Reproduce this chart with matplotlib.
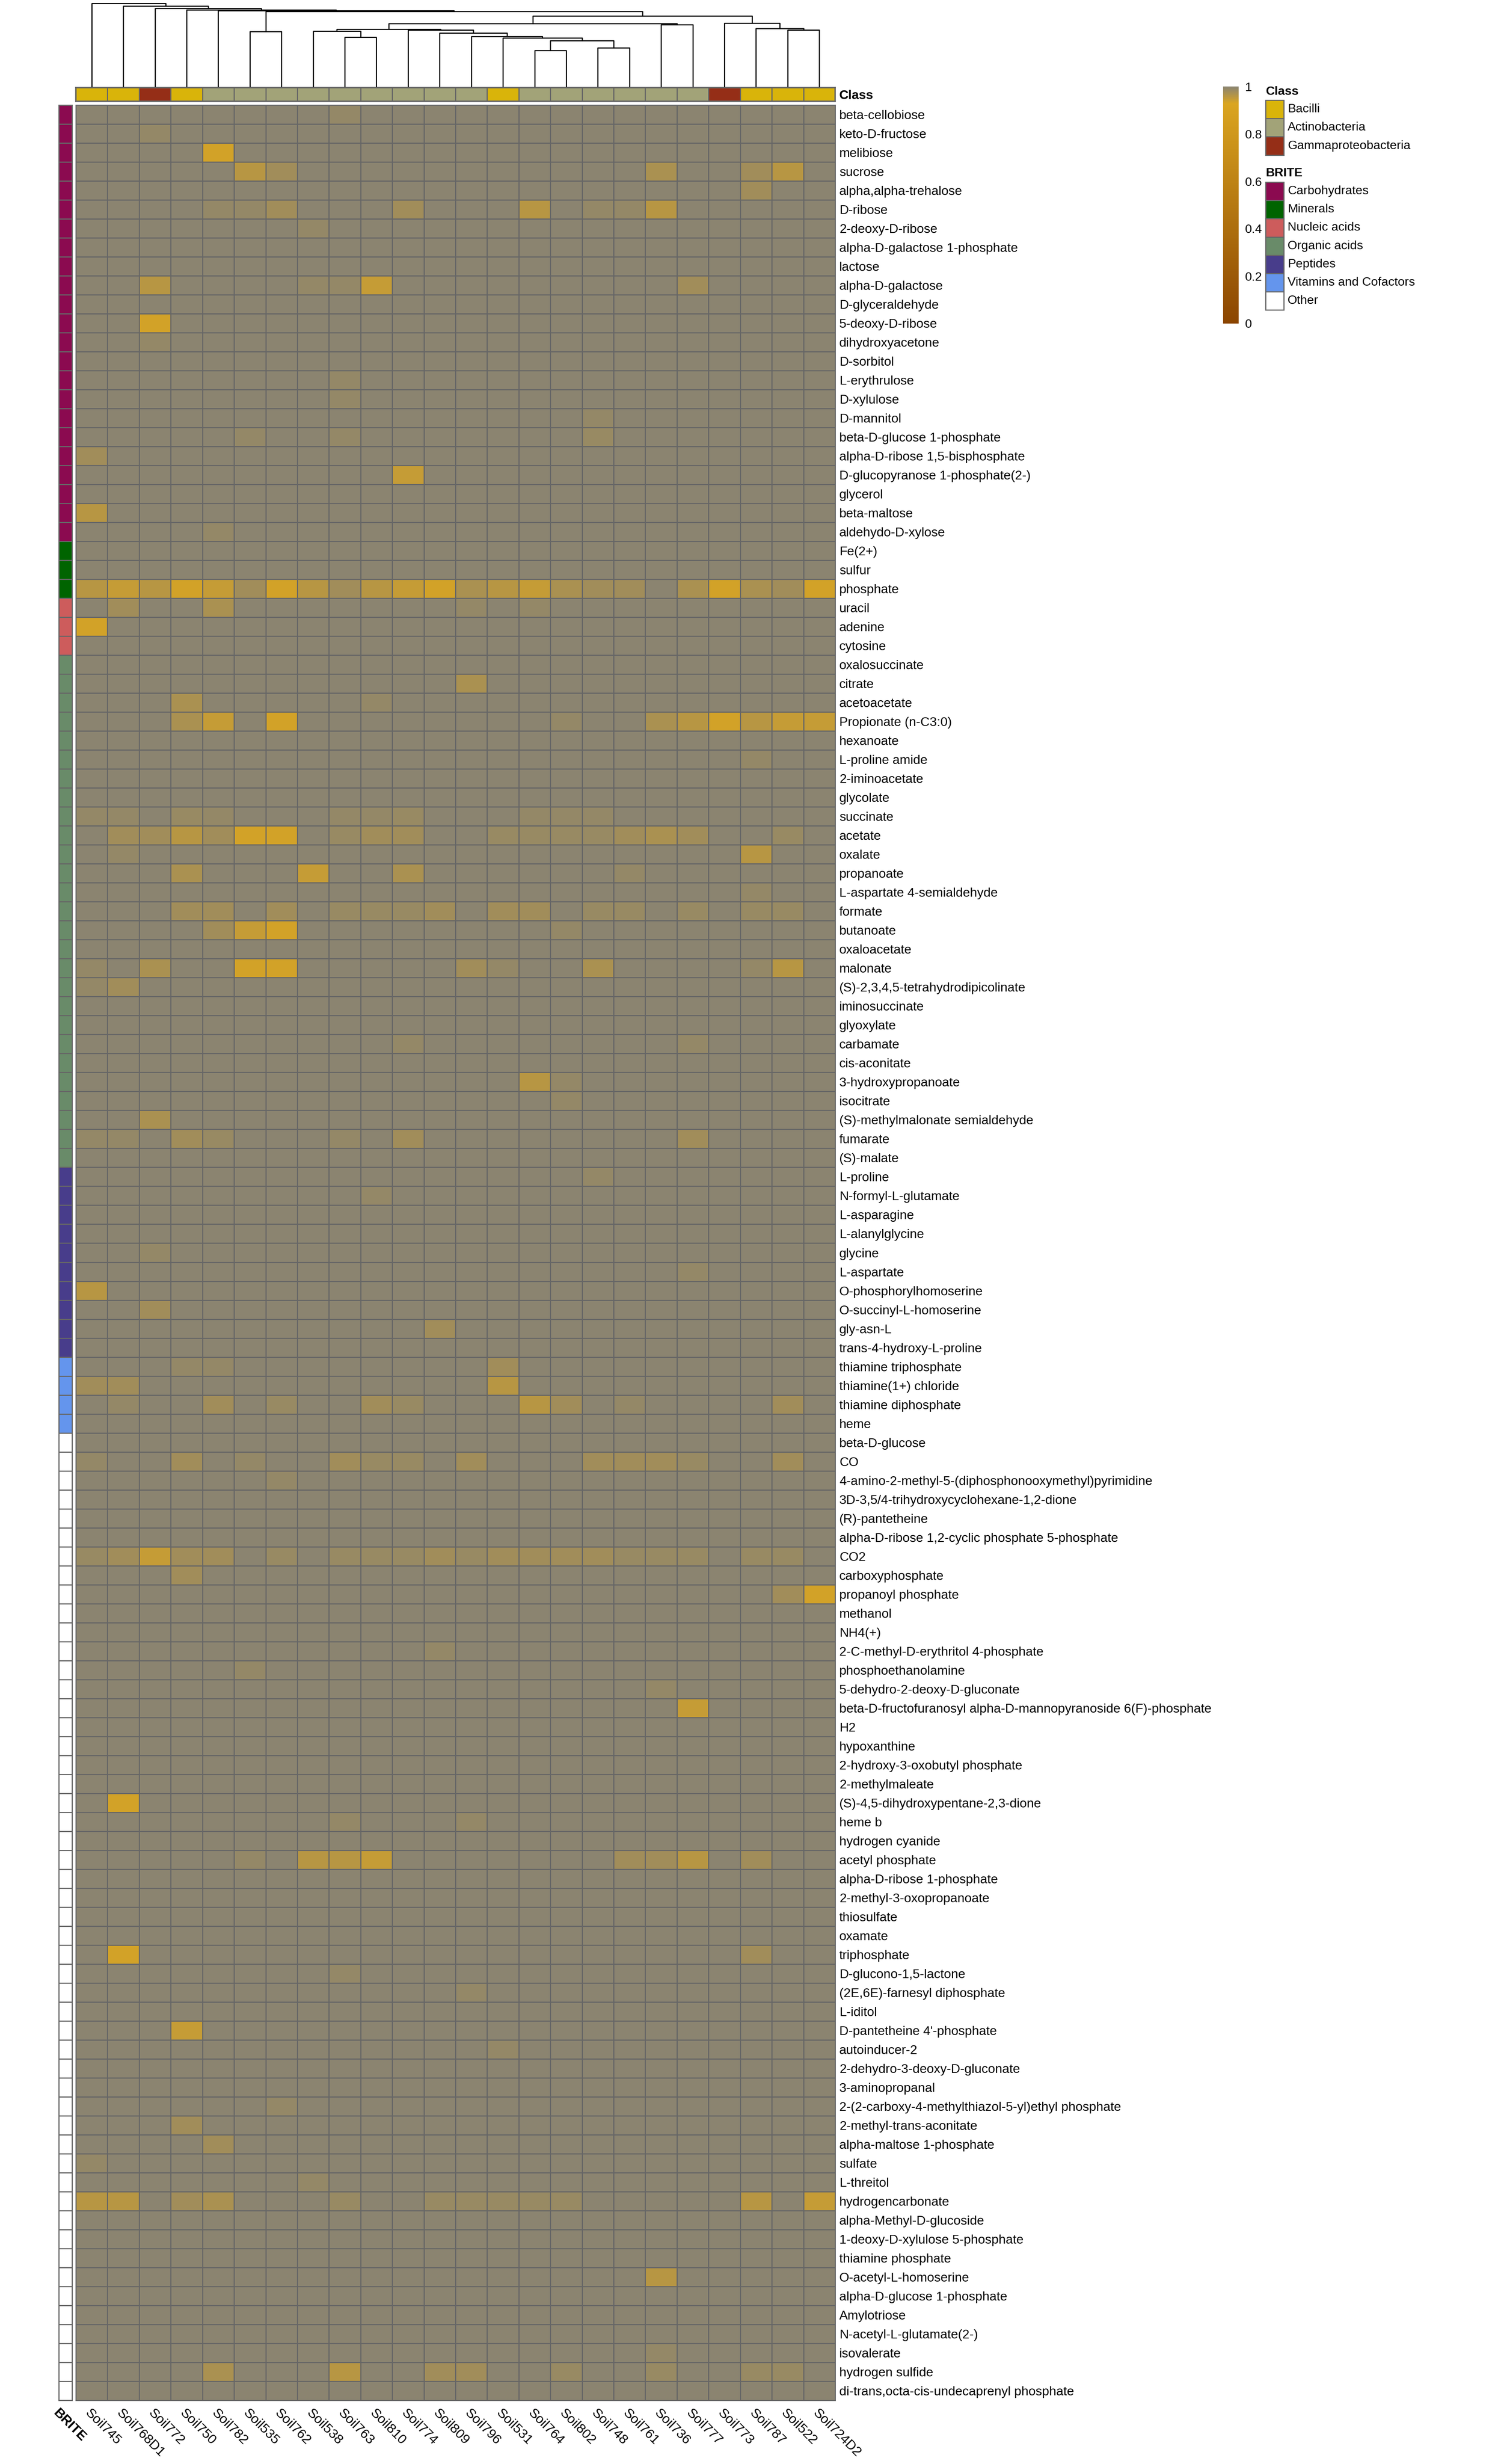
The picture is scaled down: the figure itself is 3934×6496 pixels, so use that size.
import numpy as np
import matplotlib
matplotlib.use('Agg')
import matplotlib.pyplot as plt
from matplotlib.colors import LinearSegmentedColormap, ListedColormap, Normalize
from matplotlib.cm import ScalarMappable
from matplotlib.patches import Rectangle

plt.rcParams['font.family'] = ['Liberation Sans', 'DejaVu Sans']

# canvas in pixels
W, H, DPI = 3934, 6496, 300

# ---- data ----
samples = ['Soil745', 'Soil768D1', 'Soil772', 'Soil750', 'Soil782', 'Soil535', 'Soil762', 'Soil538',
           'Soil763', 'Soil810', 'Soil774', 'Soil809', 'Soil796', 'Soil531', 'Soil764', 'Soil802',
           'Soil748', 'Soil761', 'Soil736', 'Soil777', 'Soil773', 'Soil787', 'Soil522', 'Soil724D2']

sample_class = ['Bacilli', 'Bacilli', 'Gammaproteobacteria', 'Bacilli',
                'Actinobacteria', 'Actinobacteria', 'Actinobacteria', 'Actinobacteria', 'Actinobacteria',
                'Actinobacteria', 'Actinobacteria', 'Actinobacteria', 'Actinobacteria',
                'Bacilli',
                'Actinobacteria', 'Actinobacteria', 'Actinobacteria', 'Actinobacteria', 'Actinobacteria',
                'Actinobacteria',
                'Gammaproteobacteria', 'Bacilli', 'Bacilli', 'Bacilli']

class_names = ['Bacilli', 'Actinobacteria', 'Gammaproteobacteria']
class_colors = ['#D9B40A', '#A2A378', '#952E17']

brite_names = ['Carbohydrates', 'Minerals', 'Nucleic acids', 'Organic acids', 'Peptides',
               'Vitamins and Cofactors', 'Other']
brite_colors = ['#8B0A50', '#006400', '#CD5C5C', '#698B69', '#483D8B', '#6495ED', '#FFFFFF']
brite_counts = [23, 3, 3, 27, 10, 4, 51]

compounds = [
    'beta-cellobiose', 'keto-D-fructose', 'melibiose', 'sucrose', 'alpha,alpha-trehalose', 'D-ribose',
    '2-deoxy-D-ribose', 'alpha-D-galactose 1-phosphate', 'lactose', 'alpha-D-galactose',
    'D-glyceraldehyde', '5-deoxy-D-ribose', 'dihydroxyacetone', 'D-sorbitol', 'L-erythrulose',
    'D-xylulose', 'D-mannitol', 'beta-D-glucose 1-phosphate', 'alpha-D-ribose 1,5-bisphosphate',
    'D-glucopyranose 1-phosphate(2-)', 'glycerol', 'beta-maltose', 'aldehydo-D-xylose',
    'Fe(2+)', 'sulfur', 'phosphate',
    'uracil', 'adenine', 'cytosine',
    'oxalosuccinate', 'citrate', 'acetoacetate', 'Propionate (n-C3:0)', 'hexanoate', 'L-proline amide',
    '2-iminoacetate', 'glycolate', 'succinate', 'acetate', 'oxalate', 'propanoate',
    'L-aspartate 4-semialdehyde', 'formate', 'butanoate', 'oxaloacetate', 'malonate',
    '(S)-2,3,4,5-tetrahydrodipicolinate', 'iminosuccinate', 'glyoxylate', 'carbamate', 'cis-aconitate',
    '3-hydroxypropanoate', 'isocitrate', '(S)-methylmalonate semialdehyde', 'fumarate', '(S)-malate',
    'L-proline', 'N-formyl-L-glutamate', 'L-asparagine', 'L-alanylglycine', 'glycine', 'L-aspartate',
    'O-phosphorylhomoserine', 'O-succinyl-L-homoserine', 'gly-asn-L', 'trans-4-hydroxy-L-proline',
    'thiamine triphosphate', 'thiamine(1+) chloride', 'thiamine diphosphate', 'heme',
    'beta-D-glucose', 'CO', '4-amino-2-methyl-5-(diphosphonooxymethyl)pyrimidine',
    '3D-3,5/4-trihydroxycyclohexane-1,2-dione', '(R)-pantetheine',
    'alpha-D-ribose 1,2-cyclic phosphate 5-phosphate', 'CO2', 'carboxyphosphate', 'propanoyl phosphate',
    'methanol', 'NH4(+)', '2-C-methyl-D-erythritol 4-phosphate', 'phosphoethanolamine',
    '5-dehydro-2-deoxy-D-gluconate', 'beta-D-fructofuranosyl alpha-D-mannopyranoside 6(F)-phosphate',
    'H2', 'hypoxanthine', '2-hydroxy-3-oxobutyl phosphate', '2-methylmaleate',
    '(S)-4,5-dihydroxypentane-2,3-dione', 'heme b', 'hydrogen cyanide', 'acetyl phosphate',
    'alpha-D-ribose 1-phosphate', '2-methyl-3-oxopropanoate', 'thiosulfate', 'oxamate', 'triphosphate',
    'D-glucono-1,5-lactone', '(2E,6E)-farnesyl diphosphate', 'L-iditol', "D-pantetheine 4'-phosphate",
    'autoinducer-2', '2-dehydro-3-deoxy-D-gluconate', '3-aminopropanal',
    '2-(2-carboxy-4-methylthiazol-5-yl)ethyl phosphate', '2-methyl-trans-aconitate',
    'alpha-maltose 1-phosphate', 'sulfate', 'L-threitol', 'hydrogencarbonate', 'alpha-Methyl-D-glucoside',
    '1-deoxy-D-xylulose 5-phosphate', 'thiamine phosphate', 'O-acetyl-L-homoserine',
    'alpha-D-glucose 1-phosphate', 'Amylotriose', 'N-acetyl-L-glutamate(2-)', 'isovalerate',
    'hydrogen sulfide', 'di-trans,octa-cis-undecaprenyl phosphate',
]

# cell values, coded per sample (one character per column)
level_value = {'0': 1.0, '1': 0.991, '2': 0.985, '3': 0.978, '4': 0.971,
               '5': 0.959, '6': 0.948, '7': 0.936}

Z = '000000 000000 000000 000000'
cells = [
    '000000 001000 000000 000000', '001000 000000 000000 000000', '000070 000000 000000 000000',
    '000005 300000 000000 400350', '000000 000000 000000 000300', '000011 300030 005011 500000',
    '000000 010000 000000 000000', Z, Z,
    '005000 011600 000000 030000', Z, '007000 000000 000000 000000',
    '001000 000000 000000 000000', Z, '000000 001000 000000 000000',
    '000000 001000 000000 000000', '000000 000000 000010 000000', '000001 001000 000020 000000',
    '300000 000000 000000 000000', '000000 000060 000000 000000', Z,
    '500000 000000 000000 000000', '000010 000000 000000 000000',
    Z, Z, '565763 753567 456433 047437',
    '030040 000000 101000 000000', '700000 000000 000000 000000', Z,
    Z, '000000 000000 400000 000000', '000400 000100 000000 000000',
    '000460 700000 000100 457566', Z, '000000 000000 000000 000100',
    Z, Z, '110210 001120 001110 000000',
    '033537 702330 022223 430020', '010000 000000 000000 000500', '000400 060040 000001 000000',
    '000000 000000 000000 000100', '000330 302223 033022 020220', '000036 700000 000100 000000',
    Z, '104007 700000 310040 000150', '130000 000000 000000 000000',
    Z, Z, '000000 000010 000000 010000', Z,
    '000000 000000 005100 000000', '000000 000000 000100 000000', '004000 000000 000000 000000',
    '110320 001030 000000 030000', Z,
    '000000 000000 000010 000000', '000000 000100 000000 000000', Z, Z,
    '001000 000000 000000 000000', '000000 000000 000000 010000', '500000 000000 000000 000000',
    '003000 000000 000000 000000', '000000 000003 000000 000000', Z,
    '000110 000000 030000 000000', '330000 000000 050000 000000', '010030 200320 005301 000030', Z,
    Z, '100301 003220 300033 320030', '000000 100000 000000 000000',
    Z, Z, Z,
    '236330 202223 233332 220220', '000300 000000 000000 000000', '000000 000000 000000 000037',
    Z, Z, '000000 000001 000000 000000', '000001 000000 000000 000000',
    '000000 000000 000000 100000', '000000 000000 000000 060000',
    Z, Z, Z, Z,
    '070000 000000 000000 000000', '000000 001000 100000 000000', Z,
    '000001 055600 000003 350300',
    Z, Z, Z, Z, '070000 000000 000000 000300',
    '000000 001000 000000 000000', '000000 000000 100000 000000', Z,
    '000600 000000 000000 000000', '000000 000000 010000 000000', Z, Z,
    '000000 100000 000000 000000', '000300 000000 000000 000000', '000030 000000 000000 000000',
    '100000 000000 000000 000000', '000000 010000 000000 000000', '550340 002002 222200 000506',
    Z, Z, Z, '000000 000000 000000 500000',
    Z, Z, Z, '000000 000000 000000 100000',
    '000040 005003 300200 200220', Z,
]

# column dendrogram: (child a, child b, height); ids >= 24 are earlier merges
merges = [
    (5, 6, 435), (8, 9, 390), (7, 25, 438), (14, 15, 285), (16, 17, 307), (27, 28, 362),
    (13, 29, 385), (12, 30, 397), (11, 31, 423), (10, 32, 448), (26, 33, 453), (18, 19, 489),
    (34, 35, 498), (22, 23, 447), (21, 37, 460), (20, 38, 500), (36, 39, 557), (24, 40, 593),
    (4, 41, 599), (3, 42, 605), (2, 43, 617), (1, 44, 635), (0, 45, 657),
]

# ---- figure ----
def box(x0, y0, x1, y1):
    return [x0 / W, 1 - y1 / H, (x1 - x0) / W, (y1 - y0) / H]

fig = plt.figure(figsize=(W / DPI, H / DPI), dpi=DPI)
grid_col = '#666666'
cmap = LinearSegmentedColormap.from_list('val', [(0, '#8B4500'), (0.93, '#DAA520'), (1, '#8B8470')])
norm = Normalize(0, 1)

n_rows, n_cols = len(compounds), len(samples)
M = np.array([[level_value[c] for c in row.replace(' ', '')] for row in cells])

# main heatmap
ax = fig.add_axes(box(200, 277, 2202, 6328))
ax.pcolormesh(np.arange(n_cols + 1), np.arange(n_rows + 1), M, cmap=cmap, norm=norm,
              edgecolors=grid_col, linewidth=0.7)
ax.set_xlim(0, n_cols)
ax.set_ylim(n_rows, 0)
for s in ax.spines.values():
    s.set_color(grid_col)
    s.set_linewidth(0.7)
ax.yaxis.tick_right()
ax.set_yticks(np.arange(n_rows) + 0.5)
ax.set_yticklabels(compounds, fontsize=8.1)
ax.set_xticks(np.arange(n_cols) + 0.5)
ax.set_xticklabels(samples, fontsize=8.5, rotation=-45, ha='left', va='top', rotation_mode='anchor')
ax.tick_params(length=0)
ax.tick_params(axis='y', pad=2.6)
ax.tick_params(axis='x', pad=4)

# class annotation bar
axc = fig.add_axes(box(200, 231, 2202, 267))
cls_idx = np.array([[class_names.index(c) for c in sample_class]])
axc.pcolormesh(np.arange(n_cols + 1), [0, 1], cls_idx, cmap=ListedColormap(class_colors),
               vmin=-0.5, vmax=len(class_names) - 0.5, edgecolors=grid_col, linewidth=0.7)
axc.set_xlim(0, n_cols)
axc.set_ylim(1, 0)
for s in axc.spines.values():
    s.set_color(grid_col)
    s.set_linewidth(0.9)
axc.set_xticks([])
axc.yaxis.tick_right()
axc.set_yticks([0.5])
axc.set_yticklabels(['Class'], fontsize=8.1, fontweight='bold')
axc.tick_params(length=0, pad=2.6)

# BRITE annotation bar
axb = fig.add_axes(box(155, 277, 190, 6328))
brite_idx = np.repeat(np.arange(len(brite_names)), brite_counts).reshape(-1, 1)
axb.pcolormesh([0, 1], np.arange(n_rows + 1), brite_idx, cmap=ListedColormap(brite_colors),
               vmin=-0.5, vmax=len(brite_names) - 0.5, edgecolors=grid_col, linewidth=0.7)
axb.set_xlim(0, 1)
axb.set_ylim(n_rows, 0)
for s in axb.spines.values():
    s.set_color(grid_col)
    s.set_linewidth(0.7)
axb.set_yticks([])
axb.set_xticks([0.1])
axb.set_xticklabels(['BRITE'], fontsize=8.5, fontweight='bold', rotation=-45, ha='left',
                    va='top', rotation_mode='anchor')
axb.tick_params(length=0, pad=4)

# dendrogram on columns
axd = fig.add_axes(box(200, 9, 2202, 228))
pos = {i: i + 0.5 for i in range(n_cols)}
hgt = {i: 0 for i in range(n_cols)}
for k, (a, b, h) in enumerate(merges):
    xa, xb = pos[a], pos[b]
    axd.plot([xa, xa, xb, xb], [hgt[a], h, h, hgt[b]], color='black', lw=0.7, clip_on=False)
    pos[n_cols + k] = (xa + xb) / 2
    hgt[n_cols + k] = h
axd.set_xlim(0, n_cols)
axd.set_ylim(0, max(m[2] for m in merges))
axd.axis('off')

# colour bar
cax = fig.add_axes(box(3225, 228, 3266, 853))
cb = fig.colorbar(ScalarMappable(norm=norm, cmap=cmap), cax=cax)
cb.set_ticks([0, 0.2, 0.4, 0.6, 0.8, 1])
cb.set_ticklabels(['0', '0.2', '0.4', '0.6', '0.8', '1'])
cb.outline.set_visible(False)
cax.tick_params(length=0, pad=4, labelsize=7.8)

# discrete legends
axl = fig.add_axes([0, 0, 1, 1])
axl.set_xlim(0, W)
axl.set_ylim(H, 0)
axl.axis('off')


def legend_block(title, names, colors, y_title, y0, step=48.2):
    axl.text(3338, y_title, title, fontsize=7.8, fontweight='bold', va='center', ha='left')
    for i, (nm, col) in enumerate(zip(names, colors)):
        y = y0 + i * step
        axl.add_patch(Rectangle((3337, y), 48, step, facecolor=col, edgecolor=grid_col, lw=0.7))
        axl.text(3395, y + step / 2, nm, fontsize=7.8, va='center', ha='left')


legend_block('Class', class_names, class_colors, 242, 264)
legend_block('BRITE', brite_names, brite_colors, 457, 480)

fig.savefig('out.png', dpi=DPI)
